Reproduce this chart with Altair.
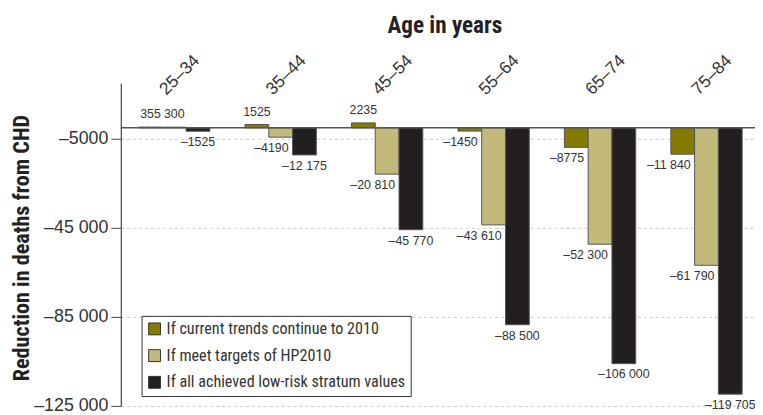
import altair as alt
import pandas as pd

ages = ["25–34", "35–44", "45–54", "55–64", "65–74", "75–84"]
series = [
    "If current trends continue to 2010",
    "If meet targets of HP2010",
    "If all achieved low-risk stratum values",
]
trends = [355, 1525, 2235, -1450, -8775, -11840]
hp2010 = [300, -4190, -20810, -43610, -52300, -61790]
lowrisk = [-1525, -12175, -45770, -88500, -106000, -119705]
colors = ["#857b00", "#c3ba7a", "#231f20"]
y_ticks = [-5000, -45000, -85000, -125000]


def fmt(v):
    a = abs(v)
    s = f"{a:,d}".replace(",", " ") if a >= 10000 else f"{a:d}"
    return ("–" if v < 0 else "") + s


rows = []
for i, age in enumerate(ages):
    for s, vals in zip(series, [trends, hp2010, lowrisk]):
        rows.append({"age": age, "series": s, "value": vals[i], "label": fmt(vals[i])})
df = pd.DataFrame(rows)

NARROW = "Liberation Sans Narrow, Roboto Condensed, Liberation Sans, sans-serif"
SANS = "Liberation Sans, Arial, sans-serif"

x_enc = alt.X(
    "age:N",
    scale=alt.Scale(domain=ages, paddingInner=0.33, paddingOuter=0.167),
    axis=alt.Axis(
        orient="top",
        domain=False,
        ticks=False,
        labelAngle=315,
        labelAlign="left",
        labelBaseline="alphabetic",
        labelPadding=-12,
        labelOffset=-8,
        labelFont=SANS,
        labelFontSize=17.5,
        labelColor="#333",
        title="Age in years",
        titleFont=NARROW,
        titleFontSize=23.4,
        titleFontWeight="bold",
        titleColor="#222",
        titleX=327,
        titleY=-51,
        titleAlign="center",
        titleBaseline="alphabetic",
    ),
)
xo_enc = alt.XOffset("series:N", scale=alt.Scale(domain=series, paddingInner=0, paddingOuter=0))
y_enc = alt.Y(
    "value:Q",
    scale=alt.Scale(domain=[-125000, 20000], nice=False, zero=False),
    axis=alt.Axis(
        values=y_ticks,
        labelExpr="(datum.value < 0 ? '–' : '') + (abs(datum.value) >= 10000 ? replace(format(abs(datum.value), ',d'), ',', ' ') : format(abs(datum.value), 'd'))",
        labelFont=SANS,
        labelFontSize=18,
        labelColor="#333",
        labelPadding=3,
        tickSize=10,
        tickColor="#444",
        domainColor="#444",
        domainWidth=1.2,
        grid=True,
        gridDash=[3, 3],
        gridColor="#c8c8c8",
        title="Reduction in deaths from CHD",
        titleFont=NARROW,
        titleFontSize=22.4,
        titleFontWeight="bold",
        titleColor="#222",
        titleX=-100,
        titleY=166,
        titleAlign="center",
        titleBaseline="middle",
    ),
)

base = alt.Chart(df)

bars = base.mark_bar(stroke="#555", strokeWidth=1).encode(
    x=x_enc,
    xOffset=xo_enc,
    y=y_enc,
    color=alt.Color(
        "series:N",
        scale=alt.Scale(domain=series, range=colors),
        legend=alt.Legend(
            title=None,
            orient="none",
            legendX=21,
            legendY=235,
            direction="vertical",
            labelFont=NARROW,
            labelFontSize=16.3,
            labelColor="#333",
            labelLimit=400,
            labelOffset=4,
            symbolType="square",
            symbolSize=144,
            symbolStrokeColor="#333",
            symbolStrokeWidth=1,
            symbolOpacity=1,
            rowPadding=10,
            padding=5,
            strokeColor="#333",
            fillColor="white",
        ),
    ),
)

zero_rule = alt.Chart(pd.DataFrame({"v": [0]})).mark_rule(color="#555", strokeWidth=1.5).encode(
    y=alt.Y("v:Q")
)

txt = dict(font=SANS, fontSize=12.5, color="#333")
pos_lab = base.transform_filter("datum.value > 0").mark_text(
    baseline="alphabetic", dy=-9, **txt
).encode(x=x_enc, xOffset=xo_enc, y=y_enc, text="label:N")
side_lab = base.transform_filter(
    f"datum.value < 0 && datum.series != '{series[2]}'"
).mark_text(align="right", baseline="top", dx=8, dy=5, **txt).encode(
    x=x_enc, xOffset=xo_enc, y=y_enc, text="label:N"
)
black_lab = base.transform_filter(
    f"datum.value < 0 && datum.series == '{series[2]}'"
).mark_text(align="center", baseline="top", dy=5, **txt).encode(
    x=x_enc, xOffset=xo_enc, y=y_enc, text="label:N"
)

chart = (
    alt.layer(bars, zero_rule, pos_lab, side_lab, black_lab)
    .properties(
        width=646,
        height=326,
        autosize=alt.AutoSizeParams(type="none"),
        padding={"left": 114, "top": 74, "right": -5, "bottom": 7},
    )
    .configure_view(stroke=None)
)

chart.save("out.html", embed_options={"renderer": "svg", "actions": False})
